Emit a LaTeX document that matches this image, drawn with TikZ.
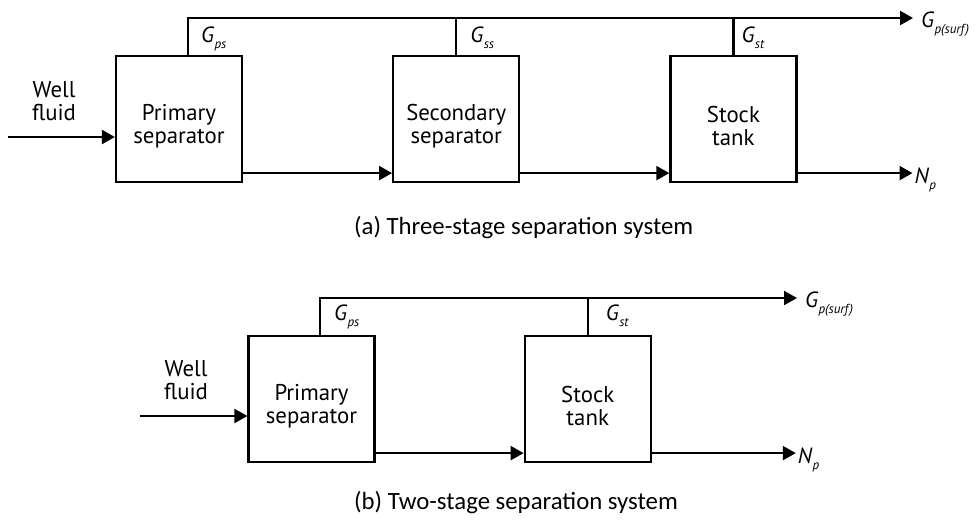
\documentclass[tikz,border=0pt]{standalone}
\usepackage{fontspec}
\setmainfont{PT Sans}
\newfontfamily\capfont{Carlito}
\usetikzlibrary{positioning,arrows.meta}

\newcommand{\stream}[2]{\textit{#1}\raisebox{-3pt}{\fontsize{6.5}{6.5}\selectfont\textit{#2}}}

\begin{document}
\begin{tikzpicture}[x=0.5pt,y=-0.5pt,>={Triangle[length=6.5pt,width=7pt]},line width=1.1pt,node distance=74.5pt,
    feed/.style={align=center,inner sep=0pt,font=\fontsize{11.4}{11.5}\selectfont},
    vessel/.style={draw,minimum width=63pt,minimum height=63pt,inner sep=0pt,label={[feed,yshift=-3.5pt]center:{#1}}},
    tag/.style={inner sep=0pt,anchor=base west,font=\fontsize{11}{12}\selectfont},
    caption/.style={inner sep=0pt,anchor=base west,font=\capfont\fontsize{12.4}{14}\selectfont}]
    \useasboundingbox (0,0) rectangle (977,520);

    % (a) three stages
    \node[vessel={Primary\\separator}] (ps1) at (179,119) {};
    \node[vessel={Secondary\\separator},right=of ps1] (ss1) {};
    \node[vessel={Stock\\tank},right=of ss1] (st1) {};

    \coordinate (gs1) at (913,18);
    \draw[->] ([xshift=4.5pt]ps1.north) |- coordinate (r1) (gs1);
    \draw (ss1.north) -- (ss1.north |- gs1) coordinate (r2);
    \draw (st1.north) -- (st1.north |- gs1) coordinate (r3);
    \node[tag] (lps1) at ([xshift=6pt,yshift=-12pt]r1) {\stream{G}{ps}};
    \node[tag] (lss1) at ([xshift=6.5pt,yshift=-12pt]r2) {\stream{G}{ss}};
    \node[tag] (lst1) at ([xshift=3.5pt,yshift=-12pt]r3) {\stream{G}{st}};
    \node[tag] (gsurf1) at ([xshift=3.5pt,yshift=-4.5pt]gs1) {\stream{G}{p(surf)}};

    \coordinate (in1) at (8,137);
    \draw[->] (in1) -- (in1 -| ps1.west);
    \node[feed] (wf1) at (54,101) {Well\\fluid};

    \draw[->] ([yshift=5pt]ps1.south east) -- ([yshift=5pt]ss1.south west);
    \draw[->] ([yshift=5pt]ss1.south east) -- ([yshift=5pt]st1.south west);
    \draw[->] ([yshift=5pt]st1.south east) -- ++(57.5pt,0) coordinate (np1);
    \node[tag] (oil1) at ([xshift=0.5pt,yshift=-5pt]np1) {\stream{N}{p}};

    \node[caption] (capa) at (353,234) {(a) Three-stage separation system};

    % (b) two stages
    \node[vessel={Primary\\separator}] (ps2) at (311.5,399) {};
    \node[vessel={Stock\\tank},right=74pt of ps2] (st2) {};

    \coordinate (gs2) at (797,298);
    \draw[->] ([xshift=4.25pt]ps2.north) |- coordinate (r4) (gs2);
    \draw (st2.north) -- (st2.north |- gs2) coordinate (r5);
    \node[tag] (lps2) at ([xshift=6.5pt,yshift=-11pt]r4) {\stream{G}{ps}};
    \node[tag] (lst2) at ([xshift=8.5pt,yshift=-11pt]r5) {\stream{G}{st}};
    \node[tag] (gsurf2) at ([xshift=3.5pt,yshift=-4.5pt]gs2) {\stream{G}{p(surf)}};

    \coordinate (in2) at (140,416);
    \draw[->] (in2) -- (in2 -| ps2.west);
    \node[feed] (wf2) at (186,380) {Well\\fluid};

    \draw[->] ([yshift=5pt]ps2.south east) -- ([yshift=5pt]st2.south west);
    \draw[->] ([yshift=5pt]st2.south east) -- ++(72pt,0) coordinate (np2);
    \node[tag] (oil2) at ([xshift=0.5pt,yshift=-5pt]np2) {\stream{N}{p}};

    \node[caption] (capb) at (353,509) {(b) Two-stage separation system};
\end{tikzpicture}
\end{document}
